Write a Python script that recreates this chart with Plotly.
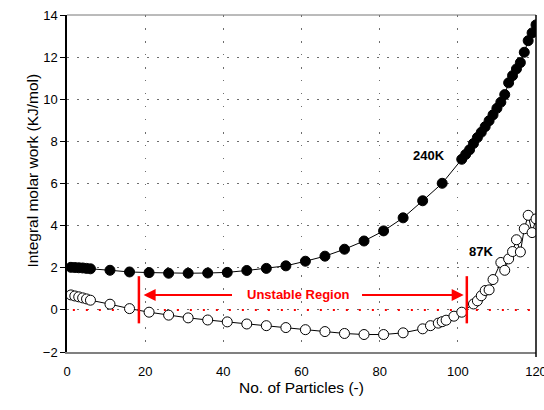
import plotly.graph_objects as go

# Integral molar work vs. number of particles at two temperatures
x_240 = [1, 2, 3, 4, 5, 6, 11, 16, 21, 26, 31, 36, 41, 46, 51, 56, 61, 66, 71, 76,
         81, 86, 91, 96, 101, 102, 103, 104, 105, 106, 107, 108, 109, 110, 111,
         112, 113, 114, 115, 116, 117, 118, 119, 120]
y_240 = [2.02, 2.01, 2.00, 1.99, 1.97, 1.95, 1.88, 1.80, 1.77, 1.74, 1.74, 1.75,
         1.78, 1.87, 1.97, 2.09, 2.31, 2.55, 2.88, 3.27, 3.75, 4.37, 5.18, 6.01,
         7.15, 7.38, 7.60, 7.90, 8.18, 8.43, 8.70, 8.98, 9.26, 9.57, 9.86, 10.22,
         10.78, 11.12, 11.44, 11.74, 12.23, 12.78, 13.15, 13.53]

x_87 = [1, 2, 3, 4, 5, 6, 11, 16, 21, 26, 31, 36, 41, 46, 51, 56, 61, 66, 71, 76,
        81, 86, 91, 93, 95, 96, 97, 99, 101, 104, 105, 106, 107, 108, 109, 111,
        112, 113, 114, 115, 116, 117, 118, 119, 120]
y_87 = [0.71, 0.66, 0.62, 0.57, 0.52, 0.46, 0.27, 0.06, -0.11, -0.25, -0.38,
        -0.48, -0.57, -0.67, -0.75, -0.84, -0.94, -1.03, -1.12, -1.17, -1.17,
        -1.09, -0.90, -0.75, -0.63, -0.56, -0.49, -0.30, -0.11, 0.28, 0.43, 0.67,
        0.92, 0.95, 1.44, 2.25, 1.88, 2.42, 2.77, 3.33, 2.75, 3.85, 4.49, 3.67,
        4.32]

x_ticks = [0, 20, 40, 60, 80, 100, 120]
y_ticks = [-2, 0, 2, 4, 6, 8, 10, 12, 14]

x_title = "No. of Particles (-)"
y_title = "Integral molar work (KJ/mol)"

# Unstable region bounds and labels
unstable_left = 18.4
unstable_right = 102.3
arrow_y = 0.71
region_label = "Unstable Region"
label_240 = "240K"
label_87 = "87K"

RED = "#ff0000"
FONT = "Liberation Sans, Arial, sans-serif"

fig = go.Figure()

# zero reference line
fig.add_trace(go.Scatter(
    x=[1.5, 120], y=[0, 0], mode="lines",
    line=dict(color=RED, width=2, dash="2px,11px"),
    hoverinfo="skip", showlegend=False))

fig.add_trace(go.Scatter(
    x=x_240, y=y_240, mode="lines+markers", name=label_240,
    line=dict(color="black", width=1),
    marker=dict(symbol="circle", size=10, color="black",
                line=dict(color="black", width=1)),
    showlegend=False))

fig.add_trace(go.Scatter(
    x=x_87, y=y_87, mode="lines+markers", name=label_87,
    line=dict(color="black", width=1),
    marker=dict(symbol="circle", size=10, color="white",
                line=dict(color="black", width=1)),
    showlegend=False))

# vertical boundaries of the unstable region
for xb in (unstable_left, unstable_right):
    fig.add_shape(type="line", x0=xb, x1=xb, y0=-0.64, y1=1.6,
                  xref="x", yref="y", line=dict(color=RED, width=2.5))

# arrows pointing to both boundaries
fig.add_annotation(x=unstable_left + 1.2, y=arrow_y, ax=42.6, ay=arrow_y,
                   xref="x", yref="y", axref="x", ayref="y", text="",
                   showarrow=True, arrowhead=2, arrowsize=1.2, arrowwidth=2,
                   arrowcolor=RED)
fig.add_annotation(x=unstable_right - 0.8, y=arrow_y, ax=75.1, ay=arrow_y,
                   xref="x", yref="y", axref="x", ayref="y", text="",
                   showarrow=True, arrowhead=2, arrowsize=1.2, arrowwidth=2,
                   arrowcolor=RED)
fig.add_annotation(x=59.2, y=arrow_y, text="<b>" + region_label + "</b>",
                   showarrow=False, font=dict(family=FONT, size=13, color=RED))

fig.add_annotation(x=92.6, y=7.33, text="<b>" + label_240 + "</b>",
                   showarrow=False, font=dict(family=FONT, size=13, color="black"))
fig.add_annotation(x=106, y=2.77, text="<b>" + label_87 + "</b>",
                   showarrow=False, font=dict(family=FONT, size=13, color="black"))

# axis titles
fig.add_annotation(xref="paper", yref="paper", x=0.501, y=-0.1365,
                   text=x_title, showarrow=False,
                   font=dict(family=FONT, size=15.5, color="black"))
fig.add_annotation(xref="paper", yref="paper", x=-0.098, y=0.537,
                   text=y_title, showarrow=False, textangle=-90,
                   font=dict(family=FONT, size=15.5, color="black"))

fig.update_layout(
    width=544, height=410,
    margin=dict(l=67, r=8, t=15, b=58, autoexpand=False),
    paper_bgcolor="white", plot_bgcolor="white",
    font=dict(family=FONT, size=13, color="black"),
    xaxis=dict(
        range=[0, 120], tickvals=x_ticks, ticks="", showline=True,
        linecolor="#808080", linewidth=2, mirror=False, automargin=False,
        showgrid=True, gridcolor="#6e6e6e", gridwidth=1.3, griddash="1.5px,11.5px",
        zeroline=False, ticklabelstandoff=6, ticklabeloverflow="allow"),
    yaxis=dict(
        range=[-2, 14], tickvals=y_ticks, ticks="outside", ticklen=5,
        tickcolor="black", showline=True, linecolor="black", linewidth=1.5,
        mirror=False, automargin=False,
        showgrid=True, gridcolor="#6e6e6e", gridwidth=1.3, griddash="1.5px,8.5px",
        zeroline=False),
)

# top and right frame lines
fig.add_shape(type="line", xref="paper", yref="paper", x0=0, x1=1, y0=1, y1=1,
              line=dict(color="#777777", width=1))
fig.add_shape(type="line", xref="paper", yref="paper", x0=1, x1=1, y0=-0.015, y1=1,
              line=dict(color="black", width=1.5))

fig.write_html("out.html")
